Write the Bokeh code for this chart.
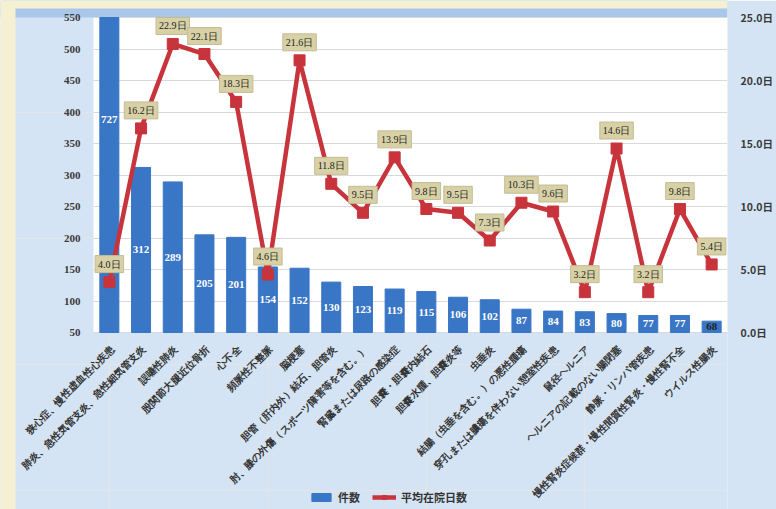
from math import pi
from bokeh.plotting import figure
from bokeh.models import (Range1d, LinearAxis, ColumnDataSource, LabelSet, Legend, Grid,
                          LegendItem, PrintfTickFormatter, FixedTicker, BoxAnnotation)
from bokeh.embed import file_html
from bokeh.resources import INLINE

categories = [
    "狭心症、慢性虚血性心疾患",
    "肺炎、急性気管支炎、急性細気管支炎",
    "誤嚥性肺炎",
    "股関節大腿近位骨折",
    "心不全",
    "頻脈性不整脈",
    "脳梗塞",
    "胆管（肝内外）結石、胆管炎",
    "肘、膝の外傷（スポーツ障害等を含む。）",
    "腎臓または尿路の感染症",
    "胆嚢・胆嚢内結石",
    "胆嚢水腫、胆嚢炎等",
    "虫垂炎",
    "結腸（虫垂を含む。）の悪性腫瘍",
    "穿孔または膿瘍を伴わない憩室性疾患",
    "鼠径ヘルニア",
    "ヘルニアの記載のない腸閉塞",
    "静脈・リンパ管疾患",
    "慢性腎炎症候群・慢性間質性腎炎・慢性腎不全",
    "ウイルス性腸炎",
]
cases = [727, 312, 289, 205, 201, 154, 152, 130, 123, 119, 115, 106, 102, 87, 84, 83, 80, 77, 77, 68]
avg_days = [4.0, 16.2, 22.9, 22.1, 18.3, 4.6, 21.6, 11.8, 9.5, 13.9, 9.8, 9.5, 7.3, 10.3, 9.6, 3.2, 14.6, 3.2, 9.8, 5.4]
left_ticks = [50, 100, 150, 200, 250, 300, 350, 400, 450, 500, 550]
right_ticks = [0, 5, 10, 15, 20, 25]

LEFT_MIN, LEFT_MAX = 50, 550
RIGHT_MIN, RIGHT_MAX = 0, 25
N = len(categories)

# layout (pixels)
W, H = 776, 509
RIGHTB = 49
PLOT_TOP, PLOT_BOTTOM = 17, 332     # value area 550..50
PLOT_LEFT, PLOT_RIGHT = 93, 727     # value area, horizontally

pxu = (PLOT_BOTTOM - PLOT_TOP) / (LEFT_MAX - LEFT_MIN)
y_end = LEFT_MAX + PLOT_TOP / pxu
y_start = LEFT_MIN - (H - PLOT_BOTTOM) / pxu
ratio = (RIGHT_MAX - RIGHT_MIN) / (LEFT_MAX - LEFT_MIN)
r_start = RIGHT_MIN + (y_start - LEFT_MIN) * ratio
r_end = RIGHT_MIN + (y_end - LEFT_MIN) * ratio

cat_px = (PLOT_RIGHT - PLOT_LEFT) / N
x_end = N - 0.5
x_start = -0.5 - PLOT_LEFT / cat_px

src = ColumnDataSource(dict(
    x=list(range(N)),
    cat=categories,
    cases=cases,
    shown=[min(v, LEFT_MAX) for v in cases],          # axis tops out at 550
    cases_str=[str(v) for v in cases],
    label_y=[(LEFT_MIN + v) / 2 for v in cases],
    label_color=["white" if v >= 70 else "#222222" for v in cases],
    base=[LEFT_MIN] * N,
    days=avg_days,
    days_str=[f"{d:.1f}日" for d in avg_days],
))
tick_src = ColumnDataSource(dict(
    x=[-0.5] * len(left_ticks),
    y=left_ticks,
    text=[str(t) for t in left_ticks],
))

JP = "Noto Sans CJK JP"
BG = "#d5e4f4"

p = figure(width=W, height=H, x_range=Range1d(x_start, x_end), y_range=Range1d(y_start, y_end),
           output_backend="svg", toolbar_location=None,
           x_axis_location=None, y_axis_location=None,
           min_border_left=0, min_border_right=RIGHTB, min_border_top=0, min_border_bottom=0)
p.extra_y_ranges = {"days": Range1d(r_start, r_end)}

p.border_fill_color = BG
p.background_fill_color = BG
p.outline_line_color = None

# decorative page edges and top band
p.add_layout(BoxAnnotation(bottom=LEFT_MAX, fill_color="#a9c7ea", fill_alpha=1,
                           line_color=None, level="underlay"))
p.add_layout(BoxAnnotation(bottom=LEFT_MAX + 9 / pxu, fill_color="#f5f0d2", fill_alpha=1,
                           line_color=None, level="underlay"))
p.add_layout(BoxAnnotation(right=x_start + 15 / cat_px, fill_color="#f5f0d2", fill_alpha=1,
                           line_color=None, level="underlay"))
# white value area
p.add_layout(BoxAnnotation(left=-0.5, right=N - 0.5, bottom=LEFT_MIN, top=LEFT_MAX,
                           fill_color="white", fill_alpha=1, line_color=None, level="underlay"))
grid = Grid(dimension=1, ticker=FixedTicker(ticks=left_ticks), grid_line_color="#d9d9d9",
            cross_bounds=(-0.5, N - 0.5))
p.add_layout(grid)

bars = p.vbar(x="x", top="shown", bottom=LEFT_MIN, width=0.6, color="#3a76c6", source=src)
line = p.line(x="x", y="days", y_range_name="days", line_width=4.5, color="#c8343c", source=src)
marks = p.scatter(x="x", y="days", y_range_name="days", marker="square", size=11,
                  color="#c8343c", source=src)

bar_labels = LabelSet(x="x", y="label_y", text="cases_str", source=src, text_align="center",
                      text_baseline="middle", text_color="label_color", text_font=JP,
                      text_font_style="bold", text_font_size="11px")
p.add_layout(bar_labels)

p.text(x="x", y="days", y_range_name="days", text="days_str", source=src,
       y_offset=-18, text_align="center", text_baseline="middle",
       text_color="#222222", text_font=JP, text_font_size="10px",
       background_fill_color="#d8d1a6", border_line_color="#c4bc94", padding=3)

# category labels (rotated)
cat_labels = LabelSet(x="x", y="base", text="cat", source=src, angle=pi / 4,
                      x_offset=3, y_offset=-15, text_align="right", text_baseline="middle",
                      text_color="#333333", text_font=JP, text_font_style="bold",
                      text_font_size="10px")
p.add_layout(cat_labels)

# left value-axis tick labels
left_labels = LabelSet(x="x", y="y", text="text", source=tick_src, x_offset=-13,
                       text_align="right", text_baseline="middle", text_color="#3a3a3a",
                       text_font=JP, text_font_style="bold", text_font_size="11px")
p.add_layout(left_labels)

right = LinearAxis(y_range_name="days", ticker=FixedTicker(ticks=right_ticks),
                   formatter=PrintfTickFormatter(format="%.1f日"))
right.axis_line_color = None
right.major_tick_line_color = None
right.minor_tick_line_color = None
right.major_label_text_font = JP
right.major_label_text_font_style = "bold"
right.major_label_text_font_size = "10.5px"
right.major_label_text_color = "#3a3a3a"
right.major_label_standoff = 7
p.add_layout(right, "right")

legend = Legend(items=[LegendItem(label="件数", renderers=[bars]),
                       LegendItem(label="平均在院日数", renderers=[line, marks])],
                orientation="horizontal", location=(PLOT_LEFT + 216, 4),
                border_line_color=None, background_fill_alpha=0,
                label_text_font=JP, label_text_font_style="bold", label_text_font_size="11px",
                label_text_color="#333333", glyph_width=24, glyph_height=10, spacing=12,
                label_standoff=5, margin=0, padding=2)
p.add_layout(legend, "center")

open("out.html", "w").write(file_html(p, INLINE))
